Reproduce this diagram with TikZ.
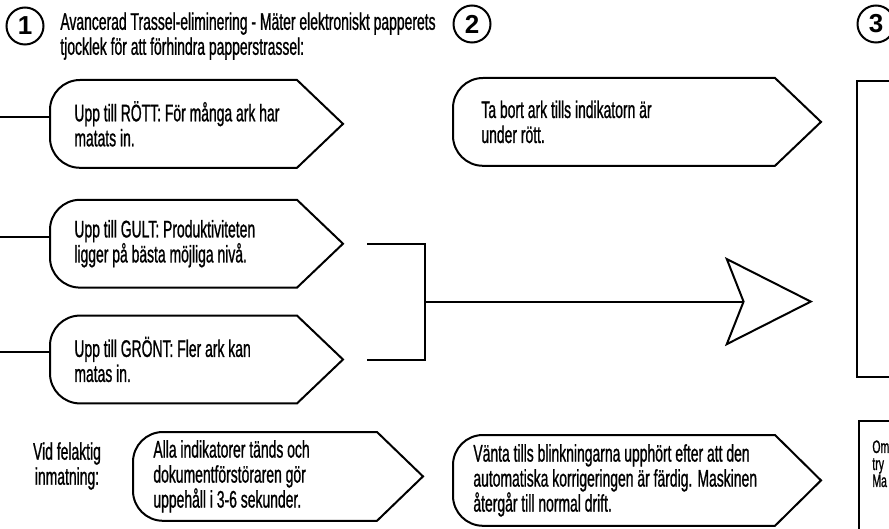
\documentclass[tikz,border=0pt]{standalone}
\usepackage{fontspec}
\setmainfont{Liberation Sans}[FakeStretch=0.58, FakeBold=0.9]
\newfontfamily\numfont{Liberation Sans}
\usepackage{tikz}
\usetikzlibrary{arrows.meta, positioning, calc}

\newcommand{\tagfont}{\fontsize{12pt}{12.5pt}\selectfont}

\tikzset{
  tagbox/.style={rectangle, anchor=north west, align=left, font=\tagfont,
    inner xsep=12pt, inner ysep=0pt, minimum height=43.5pt},
  tagedge/.style={line width=1pt, line join=miter},
  conn/.style={line width=1pt},
  bigarrow/.style={line width=1pt,
    -{Stealth[length=44pt, width=44.5pt, inset=8.75pt, fill=white]},
    shorten >=21.5pt},
  panel/.style={rectangle, draw, line width=1pt, anchor=north west, inner sep=0pt},
  numcirc/.style={circle, draw, line width=1pt, minimum size=18.5pt,
    inner sep=0pt, font=\numfont\bfseries\fontsize{13pt}{13pt}\selectfont},
  plaintext/.style={align=left, inner sep=0pt, font=\tagfont}
}

% outline of a tag box: rounded left side, pointed right side
\newcommand{\tagshape}[2]{%
  \coordinate (#1-end) at ($(#1.north west)+(#2,0)$);
  \coordinate (#1-tip) at ($(#1-end |- #1.west)+(23pt,0)$);
  \draw[tagedge] (#1-end) -- ($(#1.north west)+(15pt,0)$)
    arc[start angle=90, end angle=180, radius=15pt]
    -- ($(#1.south west)+(0,15pt)$)
    arc[start angle=180, end angle=270, radius=15pt]
    -- (#1-end |- #1.south) -- (#1-tip) -- cycle;
}

\begin{document}
\begin{tikzpicture}[x=0.5pt, y=-0.5pt]
  \path[use as bounding box, clip] (0,0) rectangle (889,529);

  % step numbers and heading
  \node[numcirc] (num1) at (25,26) {1};
  \node[numcirc] (num2) at (472,24) {2};
  \node[numcirc] (num3) at (876,24) {3};
  \node[plaintext, anchor=north west] (title) at (60,12)
    {Avancerad Trassel-eliminering - Mäter elektroniskt papperets\\tjocklek för att förhindra papperstrassel:};

  % step 1
  \node[tagbox] (rot) at (50,80) {Upp till RÖTT: För många ark har\\matats in.};
  \node[tagbox, below=16pt of rot.south west, anchor=north west] (gult)
    {Upp till GULT: Produktiviteten\\ligger på bästa möjliga nivå.};
  \node[tagbox, below=14pt of gult.south west, anchor=north west] (gront)
    {Upp till GRÖNT: Fler ark kan\\matas in.};
  \node[plaintext, align=center] (wrong) at (67,466) {Vid felaktig\\inmatning:};
  \node[tagbox, inner xsep=10pt, minimum height=44pt] (alla) at (133,432)
    {Alla indikatorer tänds och\\dokumentförstöraren gör\\uppehåll i 3-6 sekunder.};

  % step 2
  \node[tagbox, inner xsep=14pt] (tabort) at (453,78)
    {Ta bort ark tills indikatorn är\\under rött.};
  \node[tagbox, inner xsep=10pt, minimum height=45pt] (vanta) at (453,435)
    {Vänta tills blinkningarna upphört efter att den\\automatiska korrigeringen är färdig. Maskinen\\återgår till normal drift.};

  % step 3
  \node[panel, minimum width=30pt, minimum height=148pt] (panel3) at (856,80) {};
  \node[panel, minimum width=30pt, minimum height=70pt] (panel4) at (858,420) {};
  \node[plaintext, anchor=north west, font=\fontsize{9pt}{8.5pt}\selectfont]
    (panel4txt) at (872,440) {Om\\try\\Ma};

  \foreach \b/\len in {rot/123.5pt, gult/123.5pt, gront/123.5pt,
                       tabort/161pt, alla/122pt, vanta/161pt}
    \tagshape{\b}{\len};

  % feed lines
  \coordinate (leftedge) at (0,0);
  \foreach \b in {rot,gult,gront}{
    \coordinate (\b-feed) at ($(\b.west)+(0,3.5pt)$);
    \draw[conn] (\b-feed -| leftedge) -- (\b-feed);
  }

  % bracket and arrow
  \draw[conn] ([xshift=12pt]gult-tip) -- ([xshift=41pt]gult-tip)
    -- ([xshift=41pt]gront-tip) -- ([xshift=12pt]gront-tip);
  \coordinate (join) at ($([xshift=41pt]gult-tip)!.5!([xshift=41pt]gront-tip)$);
  \draw[bigarrow] (join) -- (join -| panel3.west);
\end{tikzpicture}
\end{document}
